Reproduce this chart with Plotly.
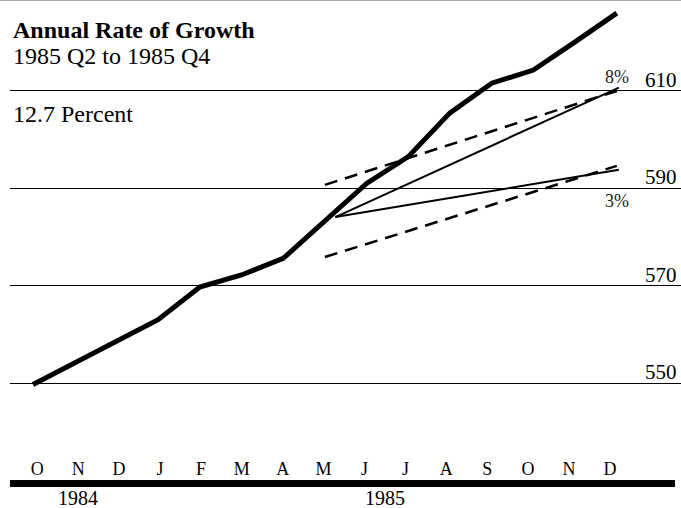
import plotly.graph_objects as go

# ---- data ----
months = ["O", "N", "D", "J", "F", "M", "A", "M", "J", "J", "A", "S", "O", "N", "D"]
values = [549.7, 554.1, 558.6, 563.0, 569.7, 572.2, 575.6, 583.3,
          591.0, 596.5, 605.5, 611.6, 614.3, 620.1, 626.0]
y_ticks = [550, 570, 590, 610]
years = ["1984", "1985"]
year_pos = [1.0, 8.5]

growth_labels = ["8%", "3%"]
growth_start_x = 7.25
growth_start_y = 584.1
growth_end_x = 14.05
growth_end_y = [610.7, 593.8]
growth_label_y = [612.9, 587.4]

band_x = [7, 14]
band_upper = [590.7, 610.0]
band_lower = [575.9, 594.6]

title = "Annual Rate of Growth"
subtitle = "1985 Q2 to 1985 Q4"
rate_text = "12.7 Percent"

FONT = "Liberation Serif"
W, H = 681, 508
ML, MB = 10, 52
PH = H - MB

fig = go.Figure()

# dashed band lines
for yy in (band_upper, band_lower):
    fig.add_trace(go.Scatter(x=band_x, y=yy, mode="lines",
                             line=dict(color="black", width=2.5, dash="13px,8px"),
                             hoverinfo="skip", showlegend=False))

# solid growth lines
for ye in growth_end_y:
    fig.add_trace(go.Scatter(x=[growth_start_x, growth_end_x], y=[growth_start_y, ye],
                             mode="lines", line=dict(color="black", width=2),
                             hoverinfo="skip", showlegend=False))

# main series
fig.add_trace(go.Scatter(x=list(range(len(months))), y=values, mode="lines",
                         line=dict(color="black", width=5),
                         hoverinfo="skip", showlegend=False))

# invisible trace for month axis
fig.add_trace(go.Scatter(x=list(range(len(months))), y=values, xaxis="x2",
                         mode="markers", marker=dict(opacity=0),
                         hoverinfo="skip", showlegend=False))

# growth labels
for lab, ly in zip(growth_labels, growth_label_y):
    fig.add_annotation(x=14.0, y=ly, xref="x", yref="y", text=lab, showarrow=False,
                       font=dict(family=FONT, size=18, color="#222"),
                       xanchor="center", yanchor="middle")


def py(pix):
    return 1 - pix / PH


def px(pix):
    return (pix - ML) / (W - ML)


# y value labels, above their gridlines at the right edge
for v in y_ticks:
    fig.add_annotation(x=px(679), y=v, xref="paper", yref="y", text=str(v),
                       showarrow=False, xanchor="right", yanchor="middle", yshift=11,
                       font=dict(family=FONT, size=21, color="black"))

# titles
fig.add_annotation(x=px(11), y=py(30), xref="paper", yref="paper", text="<b>" + title + "</b>",
                   showarrow=False, xanchor="left", yanchor="middle",
                   font=dict(family=FONT, size=24, color="black"))
fig.add_annotation(x=px(11), y=py(56), xref="paper", yref="paper", text=subtitle,
                   showarrow=False, xanchor="left", yanchor="middle",
                   font=dict(family=FONT, size=24, color="black"))
fig.add_annotation(x=px(11), y=py(114), xref="paper", yref="paper", text=rate_text,
                   showarrow=False, xanchor="left", yanchor="middle",
                   font=dict(family=FONT, size=24, color="black"))

# year labels
for yl, yp in zip(years, year_pos):
    fig.add_annotation(x=yp, y=py(498), xref="x2", yref="paper", text=yl,
                       showarrow=False, xanchor="center", yanchor="middle",
                       font=dict(family=FONT, size=20, color="black"))

# thick baseline bar and top scan edge
fig.add_shape(type="line", xref="paper", yref="paper", x0=0, x1=px(675),
              y0=py(483.5), y1=py(483.5), line=dict(color="black", width=7))
fig.add_shape(type="line", xref="paper", yref="paper", x0=px(0), x1=1,
              y0=py(0.5), y1=py(0.5), line=dict(color="#aaaaaa", width=1))

fig.update_layout(
    width=W, height=H,
    margin=dict(l=ML, r=0, t=0, b=MB, pad=0),
    paper_bgcolor="white", plot_bgcolor="white",
    xaxis=dict(range=[(ML - 33) / 41.7, (W - 33) / 41.7], showgrid=False, zeroline=False,
               showticklabels=False, ticks="", showline=False, fixedrange=True),
    xaxis2=dict(range=[(ML - 37.3) / 40.9, (W - 37.3) / 40.9], overlaying="x", side="bottom",
                anchor="y", tickvals=list(range(len(months))), ticktext=months,
                showgrid=False, zeroline=False, ticks="", showline=False,
                tickfont=dict(family=FONT, size=18, color="black")),
    yaxis=dict(range=[550 - (PH - 383) / 4.867, 550 + 383 / 4.867],
               tickvals=y_ticks, showticklabels=False, showgrid=True, gridcolor="black",
               gridwidth=1.3, zeroline=False, ticks="", showline=False),
)

fig.write_html("out.html", config={"displayModeBar": False},
               post_script="document.body.style.margin='0';")
